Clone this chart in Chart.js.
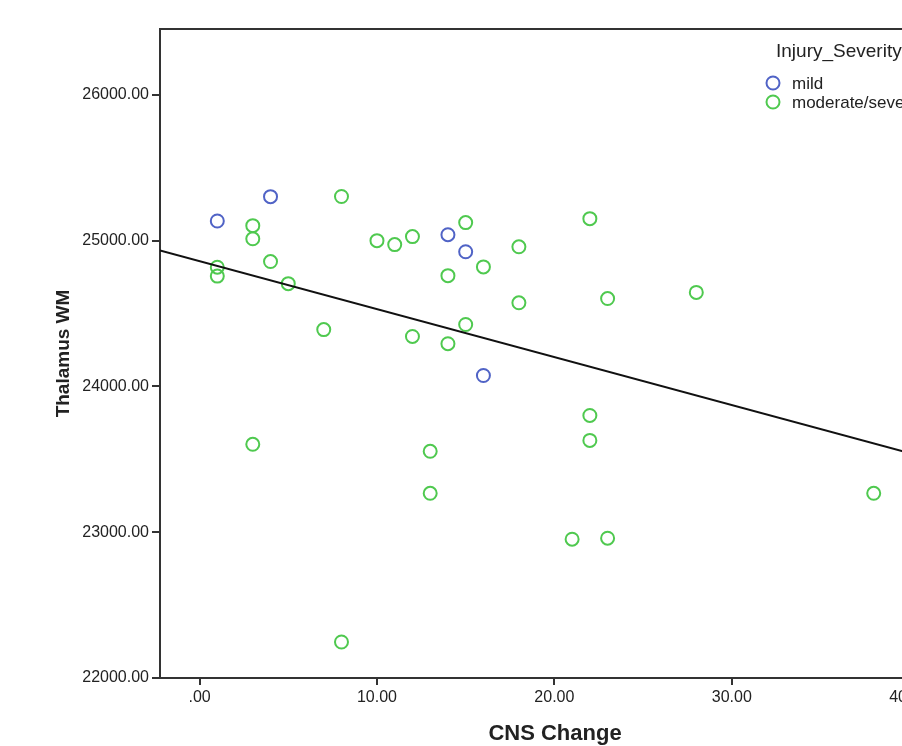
<!DOCTYPE html>
<html>
<head>
<meta charset="utf-8">
<title>Thalamus WM vs CNS Change</title>
<script src="https://cdn.jsdelivr.net/npm/chart.js@4/dist/chart.umd.min.js"></script>
<style>
  html, body { margin: 0; padding: 0; background: #fff; overflow: hidden; }
  #wrap { width: 902px; height: 746px; overflow: hidden; }
</style>
</head>
<body>
<div id="wrap"><canvas id="scatterChart" width="960" height="746"></canvas></div>
<script>
// data
const mildX = [1, 4, 14, 15, 16];
const mildY = [25135, 25302, 25041, 24924, 24075];

const sevX = [8, 3, 3, 1, 1, 4, 5, 7, 10, 11, 12, 15, 18, 16, 14, 18, 15, 12, 14, 22, 23, 28, 22, 22, 3, 13, 13, 21, 23, 38, 8];
const sevY = [25303, 25103, 25013, 24818, 24757, 24857, 24705, 24390, 25000, 24973, 25028, 25124, 24958, 24820, 24760, 24574, 24425, 24343, 24293, 25151, 24603, 24645, 23801, 23630, 23603, 23555, 23267, 22952, 22959, 23267, 22247];

// fit line end points
const fitX = [-2.23, 42.3];
const fitY = [24932, 23467];

const xTicks = [0, 10, 20, 30, 40];
const yTicks = [22000, 23000, 24000, 25000, 26000];

const legendTitle = 'Injury_Severity';
const seriesNames = ['mild', 'moderate/severe'];

const blue = '#5063c6';
const green = '#4fc94f';
const frameColor = '#333';
const fontFamily = '"Liberation Sans", Arial, sans-serif';

const toPoints = (xs, ys) => xs.map((x, i) => ({ x: x, y: ys[i] }));

// frame + legend drawn inside the plot area
const framePlugin = {
    id: 'frameAndLegend',
    afterDatasetsDraw(chart) {
        const { ctx, chartArea } = chart;
        ctx.save();
        ctx.strokeStyle = frameColor;
        ctx.lineWidth = 2;
        ctx.beginPath();
        ctx.moveTo(chartArea.left, chartArea.top);
        ctx.lineTo(chartArea.right, chartArea.top);
        ctx.stroke();

        // legend
        ctx.fillStyle = '#222';
        ctx.textBaseline = 'middle';
        ctx.textAlign = 'left';
        ctx.font = '19px ' + fontFamily;
        ctx.fillText(legendTitle, 776, 52);
        ctx.font = '17px ' + fontFamily;
        chart.data.datasets.slice(0, 2).forEach((ds, i) => {
            const y = 83 + i * 19;
            ctx.beginPath();
            ctx.arc(773, y, 6.5, 0, Math.PI * 2);
            ctx.lineWidth = 2;
            ctx.strokeStyle = ds.borderColor;
            ctx.stroke();
            ctx.fillStyle = '#222';
            ctx.fillText(ds.label, 792, y + 1);
        });
        ctx.restore();
    }
};

new Chart(document.getElementById('scatterChart').getContext('2d'), {
    type: 'scatter',
    data: {
        datasets: [{
            label: seriesNames[0],
            data: toPoints(mildX, mildY),
            borderColor: blue,
            backgroundColor: 'rgba(0,0,0,0)',
            borderWidth: 2,
            pointRadius: 6.5,
            order: 1
        }, {
            label: seriesNames[1],
            data: toPoints(sevX, sevY),
            borderColor: green,
            backgroundColor: 'rgba(0,0,0,0)',
            borderWidth: 2,
            pointRadius: 6.5,
            order: 2
        }, {
            label: 'fit',
            type: 'line',
            data: toPoints(fitX, fitY),
            borderColor: '#111',
            borderWidth: 2,
            pointRadius: 0,
            fill: false,
            order: 0
        }]
    },
    options: {
        responsive: false,
        animation: false,
        devicePixelRatio: 1,
        layout: { padding: { top: 29, right: 10, bottom: 0, left: 0 } },
        plugins: {
            legend: { display: false },
            tooltip: { enabled: false }
        },
        scales: {
            x: {
                type: 'linear',
                min: fitX[0],
                max: fitX[1],
                afterFit: (scale) => { scale.height = 68; },
                afterBuildTicks: (scale) => { scale.ticks = xTicks.map(v => ({ value: v })); },
                border: { display: true, color: frameColor, width: 2 },
                grid: { display: true, drawOnChartArea: false, drawTicks: true, tickLength: 7, color: frameColor, lineWidth: 2 },
                ticks: {
                    padding: 3,
                    color: '#222',
                    font: { family: fontFamily, size: 16 },
                    maxRotation: 0,
                    callback: (v) => v === 0 ? '.00' : v.toFixed(2)
                },
                title: {
                    display: true,
                    text: 'CNS Change',
                    color: '#222',
                    font: { family: fontFamily, size: 22, weight: 'bold', lineHeight: 1 },
                    padding: { top: 0, bottom: 1 }
                }
            },
            y: {
                type: 'linear',
                min: 22000,
                max: 26452,
                afterFit: (scale) => { scale.width = 160; },
                afterBuildTicks: (scale) => { scale.ticks = yTicks.map(v => ({ value: v })); },
                border: { display: true, color: frameColor, width: 2 },
                grid: { display: true, drawOnChartArea: false, drawTicks: true, tickLength: 8, color: frameColor, lineWidth: 2 },
                ticks: {
                    padding: 3,
                    color: '#222',
                    font: { family: fontFamily, size: 16 },
                    callback: (v) => v.toFixed(2)
                },
                title: {
                    display: true,
                    text: 'Thalamus WM',
                    color: '#222',
                    font: { family: fontFamily, size: 19, weight: 'bold', lineHeight: 1 },
                    padding: { top: 54, bottom: 0 }
                }
            }
        }
    },
    plugins: [framePlugin]
});
</script>
</body>
</html>
